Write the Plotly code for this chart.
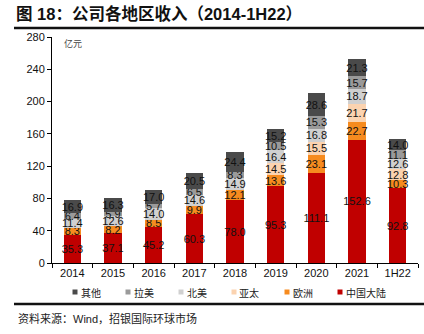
import plotly.graph_objects as go

categories = ["2014", "2015", "2016", "2017", "2018", "2019", "2020", "2021", "1H22"]
china = [35.3, 37.1, 45.2, 60.3, 78.0, 95.3, 111.1, 152.6, 92.8]
europe = [8.3, 8.2, 8.5, 9.9, 12.1, 13.6, 23.1, 22.7, 10.3]
apac = [None, None, None, None, None, 14.5, 15.5, 21.7, 12.8]
namerica = [11.4, 12.6, 14.0, 14.6, 14.9, 16.4, 16.8, 18.7, 12.6]
latam = [6.4, 5.9, 5.7, 6.5, 8.3, 10.5, 15.3, 15.7, 11.1]
others = [16.9, 16.3, 17.0, 20.5, 24.4, 15.2, 28.6, 21.3, 14.0]
y_ticks = [0, 40, 80, 120, 160, 200, 240, 280]

series = [
    ("中国大陆", china, "#c00000"),
    ("欧洲", europe, "#f68b1f"),
    ("亚太", apac, "#fbd3b0"),
    ("北美", namerica, "#d0d0d0"),
    ("拉美", latam, "#9a9a9a"),
    ("其他", others, "#4a4a4a"),
]

FONT = "Liberation Sans, Arial, Noto Sans CJK SC"
CJK = "Noto Sans CJK SC"

# layout geometry (pixels)
W, H = 424, 334
L, R, T, B = 52, 6, 37, 71
PW, PH = W - L - R, H - T - B


def px(x):
    return (x - L) / PW


def py(y):
    return (H - B - y) / PH


fig = go.Figure()
for name, vals, color in series:
    fig.add_trace(go.Bar(
        x=categories, y=vals, name=name, showlegend=False,
        marker=dict(color=color, line=dict(width=0)),
        text=[("%.1f" % v) if v is not None else "" for v in vals],
        textposition="inside", insidetextanchor="middle", textangle=0,
        constraintext="none",
        textfont=dict(color="#111111", size=11, family=FONT),
        hoverinfo="skip",
    ))

fig.update_layout(
    barmode="stack",
    bargap=0.58,
    width=W, height=H,
    margin=dict(l=L, r=R, t=T, b=B),
    paper_bgcolor="white", plot_bgcolor="white",
    font=dict(family=FONT, size=11, color="#111111"),
    uniformtext=dict(minsize=11, mode="show"),
    showlegend=False,
    xaxis=dict(
        showline=True, linecolor="#000000", linewidth=1,
        ticks="outside", tickson="boundaries", ticklen=4, tickcolor="#000000",
        tickfont=dict(size=11, family=FONT, color="#111111"),
        showgrid=False,
    ),
    yaxis=dict(
        range=[0, 280], tickvals=y_ticks,
        showline=True, linecolor="#000000", linewidth=1,
        ticks="outside", ticklen=4, tickcolor="#000000",
        tickfont=dict(size=11, family=FONT, color="#111111"),
        showgrid=False, zeroline=False,
    ),
)

# manual legend (top series first)
legend_x = [75, 128, 181, 234, 287, 340]
legend_y = 292
for (name, _vals, color), cx in zip(reversed(series), legend_x):
    fig.add_shape(type="rect", xref="paper", yref="paper",
                  x0=px(cx - 2.5), x1=px(cx + 2.5),
                  y0=py(legend_y + 2.5), y1=py(legend_y - 2.5),
                  fillcolor=color, line=dict(width=0))
    fig.add_annotation(text=name, xref="paper", yref="paper",
                       x=px(cx + 3.5), y=py(legend_y), xanchor="left", yanchor="middle",
                       showarrow=False,
                       font=dict(family=CJK, size=10, color="#222222"))

# header / footer rules
for yy in (28, 304):
    fig.add_shape(type="line", xref="paper", yref="paper",
                  x0=px(14), x1=px(424), y0=py(yy), y1=py(yy),
                  line=dict(color="#111111", width=2.5))

fig.add_annotation(text="<b>图 18：公司各地区收入（2014-1H22）</b>",
                   xref="paper", yref="paper", x=px(14), y=py(13),
                   xanchor="left", yanchor="middle", showarrow=False,
                   font=dict(family="Liberation Sans, Noto Sans CJK SC", size=16.5, color="#111111"))
fig.add_annotation(text="亿元", xref="paper", yref="paper",
                   x=px(62), y=py(43),
                   xanchor="left", yanchor="middle", showarrow=False,
                   font=dict(family=CJK, size=9, color="#444444"))
fig.add_annotation(text="资料来源：Wind，招银国际环球市场",
                   xref="paper", yref="paper", x=px(16), y=py(318),
                   xanchor="left", yanchor="middle", showarrow=False,
                   font=dict(family="Liberation Sans, Noto Sans CJK SC", size=11, color="#222222"))

fig.write_html("out.html")
